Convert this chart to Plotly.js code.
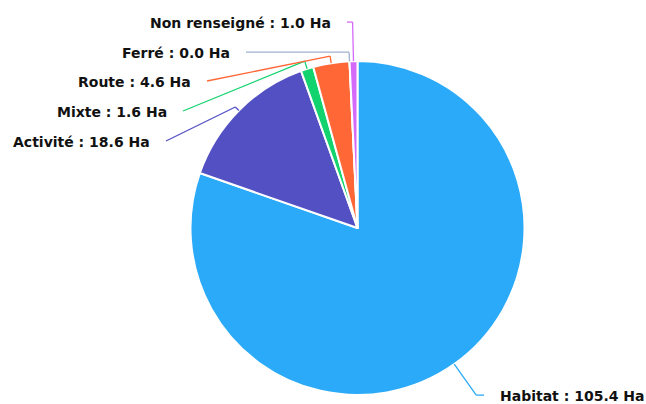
<!DOCTYPE html>
<html>
<head>
<meta charset="utf-8">
<script src="https://cdn.plot.ly/plotly-3.0.1.min.js"></script>
<style>html,body{margin:0;padding:0;background:#fff;}#chart{width:646px;height:404px;}</style>
</head>
<body>
<div id="chart"></div>
<script>
// ---- data ----
const categories = ["Habitat", "Activité", "Mixte", "Route", "Ferré", "Non renseigné"];
const areasHa = [105.4, 18.6, 1.6, 4.6, 0.0, 1.0];
const sliceColors = ["#2AAAF8", "#5350C4", "#12D36E", "#FF6836", "#9FB2CF", "#D36AF9"];

// ---- layout constants (pixels) ----
const W = 646, H = 404;
const CX = 357.5, CY = 228, R = 167;
// leader line: radial length from slice edge, then end point of the second segment, label side
const leaders = [
  {len: 38, ex: 484, ey: null, side: "right"},
  {len: 5,  ex: 166, ey: 141, side: "left"},
  {len: 8,  ex: 183, ey: 111, side: "left"},
  {len: 7,  ex: 207, ey: 81,  side: "left"},
  {len: 9,  ex: 246, ey: null, side: "left"},
  {len: 39, ex: 347, ey: null, side: "left"}
];
const GAP = 14;

const px = x => x / W;
const py = y => 1 - y / H;

const total = areasHa.reduce((a, b) => a + b, 0);
const shapes = [], annotations = [];
let cum = 0;
areasHa.forEach((v, i) => {
  const mid = (cum + v / 2) / total * 2 * Math.PI;
  cum += v;
  const sx = Math.sin(mid), cy = -Math.cos(mid);
  const x0 = CX + R * sx, y0 = CY + R * cy;
  const L = leaders[i];
  const x1 = x0 + L.len * sx, y1 = y0 + L.len * cy;
  const x2 = L.ex, y2 = (L.ey === null) ? y1 : L.ey;
  const line = {color: sliceColors[i], width: 1.3};
  shapes.push({type: "line", xref: "paper", yref: "paper", x0: px(x0), y0: py(y0), x1: px(x1), y1: py(y1), line});
  shapes.push({type: "line", xref: "paper", yref: "paper", x0: px(x1), y0: py(y1), x1: px(x2), y1: py(y2), line});
  const tx = L.side === "right" ? x2 + GAP : x2 - GAP;
  annotations.push({
    xref: "paper", yref: "paper", showarrow: false,
    x: px(tx), y: py(y2 + 1),
    xanchor: L.side === "right" ? "left" : "right", yanchor: "middle",
    text: categories[i] + " : " + v.toFixed(1) + " Ha",
    font: {family: "DejaVu Sans", size: 14, color: "#111", weight: "bold"}
  });
});

const trace = {
  type: "pie",
  labels: categories,
  values: areasHa,
  sort: false,
  direction: "clockwise",
  rotation: 0,
  textinfo: "none",
  marker: {colors: sliceColors, line: {color: "#ffffff", width: 2}},
  domain: {x: [(CX - R) / W, (CX + R) / W], y: [(H - CY - R) / H, (H - CY + R) / H]},
  showlegend: false
};

Plotly.newPlot("chart", [trace], {
  width: W, height: H,
  margin: {l: 0, r: 0, t: 0, b: 0},
  paper_bgcolor: "#fff",
  shapes, annotations,
  showlegend: false
}, {displayModeBar: false, staticPlot: true});
</script>
</body>
</html>
